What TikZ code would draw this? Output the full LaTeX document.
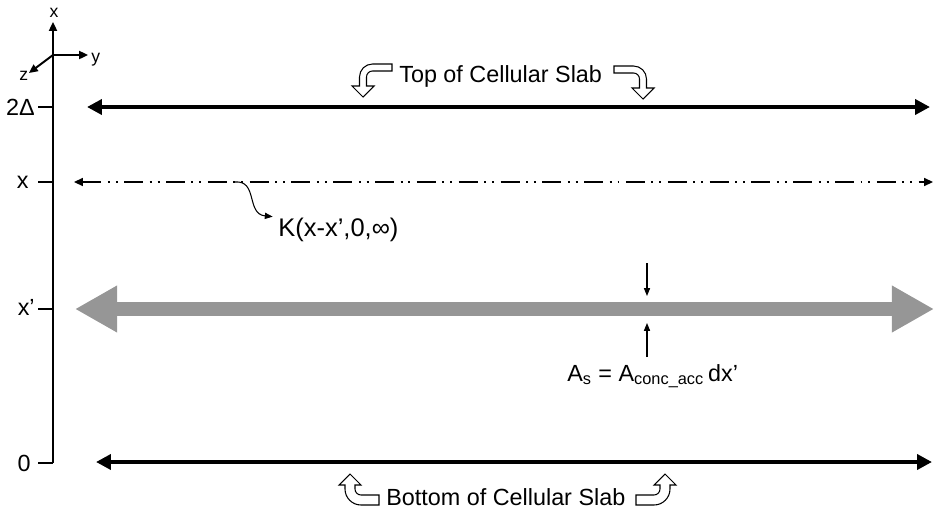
\documentclass[tikz,border=0pt]{standalone}
\usepackage{fontspec}
\setmainfont{Liberation Sans}
\usetikzlibrary{arrows.meta}
\definecolor{slabgray}{RGB}{150,150,150}

\tikzset{
  pics/turnarrow/.style 2 args={code={
    \draw[line width=0.6pt,fill=white] (0,0) -- (11,-11) -- (#1,-11) -- (#1,{-#2+2*#1+6})
      .. controls (#1,{-#2+2*#1+2.7}) and ({#1+2.7},{-#2+2*#1}) .. ({#1+6},{-#2+2*#1})
      -- (29,{-#2+2*#1}) -- (29,-#2) -- ({#1+6},-#2)
      .. controls ({-#1+0.45*(6+2*#1)},-#2) and (-#1,{-#2+0.45*(6+2*#1)}) .. (-#1,{-#2+6+2*#1})
      -- (-#1,-11) -- (-11,-11) -- cycle;
  }}
}

\begin{document}
\begin{tikzpicture}[x=0.02cm,y=-0.02cm,
  lbl/.style={font=\fontsize{13.3}{15}\selectfont,inner sep=0},
  axlbl/.style={font=\fontsize{10}{12}\selectfont,inner sep=0},
  axisline/.style={line width=1.1pt},
  tick/.style={line width=0.7pt},
  slabline/.style={line width=2.5pt,{Triangle[length=8.5pt,width=8.5pt]}-{Triangle[length=8.5pt,width=8.5pt]}},
  kernline/.style={line width=0.9pt,dash pattern=on 10.8pt off 3.7pt on 1.1pt off 3.4pt on 1.1pt off 3.7pt,{Triangle[length=5pt,width=4.5pt]}-{Triangle[length=5pt,width=4.5pt]}},
  thinarrow/.style={line width=0.6pt,-{Triangle[length=4.5pt,width=3.5pt]}}]

\useasboundingbox (0,0) rectangle (934,514);

% axes
\coordinate (O) at (53,55);
\coordinate (xtip) at (53,22);
\coordinate (ytip) at (88,55);
\coordinate (ztip) at (29,73);
\coordinate (axbot) at (53,463);
\draw[axisline,-{Triangle[length=5pt,width=4.5pt]}] (axbot) -- (xtip);
\draw[axisline,-{Triangle[length=5pt,width=4.5pt]}] (O) -- (ytip);
\draw[axisline,-{Triangle[length=5pt,width=4.5pt]}] (O) -- (ztip);
\node[axlbl,anchor=base] (xname) at (54,17) {x};
\node[axlbl,anchor=base west] (yname) at (91,62) {y};
\node[axlbl,anchor=base west] (zname) at (19,80) {z};

% ticks
\coordinate (t2d) at (53,107);
\coordinate (tx) at (53,182);
\coordinate (txp) at (53,309);
\coordinate (t0) at (53,463);
\node[lbl,anchor=base east] (l2d) at (35,115) {2Δ};
\node[lbl,anchor=base east] (lx) at (29,188) {x};
\node[lbl,anchor=base east] (lxp) at (35,315) {x’};
\node[lbl,anchor=base east] (l0) at (31,471) {0};
\draw[tick] (38,107) -- (t2d);
\draw[tick] (38,182) -- (tx);
\draw[tick] (38,309) -- (txp);
\draw[tick] (38,463) -- (t0);

% top of slab
\coordinate (top-l) at (87,107);
\coordinate (top-r) at (930,107);
\draw[slabline] (top-l) -- (top-r);
\node[lbl,anchor=base west] (toplbl) at (399,82) {Top of Cellular Slab};
\pic at (363,97) {turnarrow={3.5}{33}};
\pic[xscale=-1] at (643,99) {turnarrow={3.5}{33}};

% kernel line
\coordinate (k-l) at (74,182);
\coordinate (k-r) at (933,182);
\draw[kernline] (k-l) -- (k-r);
\coordinate (kfoot) at (235,182);
\node[lbl,anchor=base west,font=\fontsize{14.5}{16}\selectfont] (klbl) at (278,236) {K(x-x’,0,∞)};
\draw[thinarrow,shorten >=3pt] (kfoot) .. controls (258,180) and (246,214) .. (klbl.north west);

% source slab
\coordinate (xp-l) at (75,309);
\coordinate (xp-r) at (934,309);
\draw[slabgray,line width=7.6pt,{Triangle[length=24pt,width=25pt]}-{Triangle[length=24pt,width=25pt]}] (xp-l) -- (xp-r);
\coordinate (dn-a) at (647,263);
\coordinate (dn-b) at (647,296);
\coordinate (up-a) at (647,357);
\coordinate (up-b) at (647,323);
\draw[thinarrow] (dn-a) -- (dn-b);
\draw[thinarrow] (up-a) -- (up-b);
\node[lbl,anchor=base west] (aslbl) at (567,381) {A\textsubscript{s} = A\textsubscript{conc\_acc}\,dx’};

% bottom of slab
\coordinate (bot-l) at (96,462);
\coordinate (bot-r) at (932,462);
\draw[slabline] (bot-l) -- (bot-r);
\node[lbl,anchor=base west] (botlbl) at (386,505) {Bottom of Cellular Slab};
\pic[yscale=-1] at (350,474) {turnarrow={5}{31}};
\pic[xscale=-1,yscale=-1] at (665,474) {turnarrow={5}{31}};

\end{tikzpicture}
\end{document}
